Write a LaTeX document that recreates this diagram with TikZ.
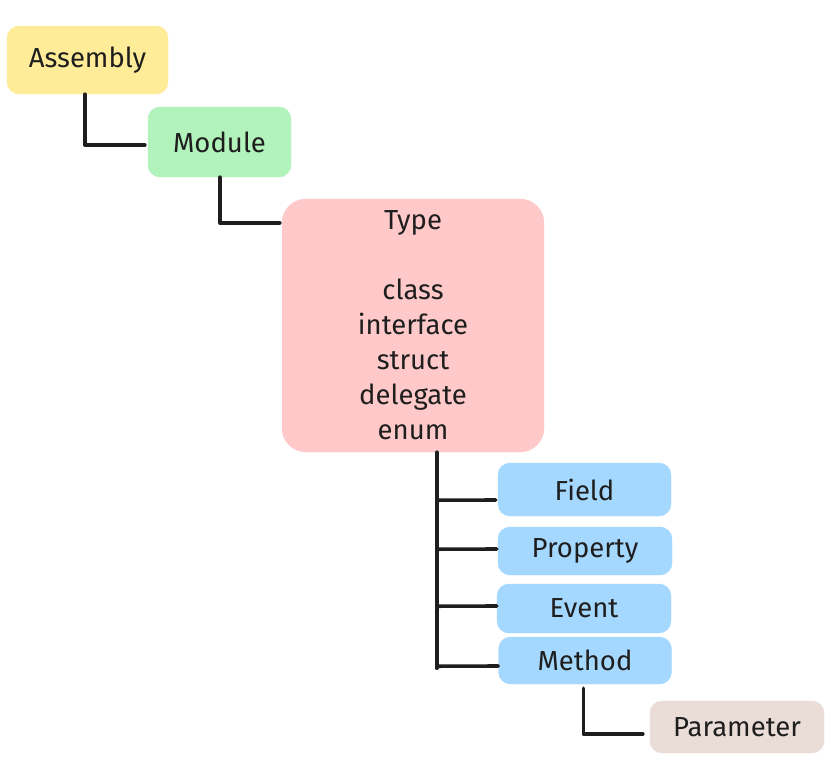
\documentclass[tikz,border=0pt]{standalone}
\usepackage{fontspec}
\setmainfont{Fira Sans}
\usetikzlibrary{calc}
\definecolor{ink}{HTML}{1E1E1E}
\definecolor{cyel}{HTML}{FFEC99}
\definecolor{cgrn}{HTML}{B2F2BB}
\definecolor{cpnk}{HTML}{FFC9C9}
\definecolor{cblu}{HTML}{A5D8FF}
\definecolor{cbrn}{HTML}{EADDD7}
\begin{document}
\begin{tikzpicture}[x=1pt,y=1pt,
  box/.style={rectangle, rounded corners=12pt, inner sep=0pt, text=ink,
    font=\fontsize{27.5}{35}\selectfont, align=center},
  link/.style={draw=ink, line width=3.6pt, line cap=round, line join=round}]
\useasboundingbox (0,0) rectangle (834,-777);
\fill[white] (0,0) rectangle (834,-777);
% boxes
\node[box, fill=cyel, draw=cyel, minimum width=161pt, minimum height=68pt] (asm) at (87.5,-60) {Assembly};
\node[box, fill=cgrn, draw=cgrn, minimum width=143pt, minimum height=70pt] (mod) at (219.5,-142) {Module};
\node[box, fill=cpnk, draw=cpnk, rounded corners=24pt, minimum width=262pt, minimum height=253pt] (typ) at (413,-325.5) {Type\\[0pt]\strut\\class\\interface\\struct\\delegate\\enum};
\node[box, fill=cblu, draw=cblu, minimum width=173pt, minimum height=53pt] (fld) at (584.5,-489.5) {Field};
\node[box, fill=cblu, draw=cblu, minimum width=174pt, minimum height=48pt] (prp) at (585,-551) {Property};
\node[box, fill=cblu, draw=cblu, minimum width=174pt, minimum height=49pt] (evt) at (584,-608.5) {Event};
\node[box, fill=cblu, draw=cblu, minimum width=173pt, minimum height=47pt] (mth) at (585,-660.5) {Method};
\node[box, fill=cbrn, draw=cbrn, minimum width=174pt, minimum height=52pt] (par) at (737,-727) {Parameter};
% connectors
\draw[link] ($(asm.south west)+(78,0)$) |- ($(mod.west)+(-3,-3)$);
\draw[link] ($(mod.south west)+(72,0)$) |- ($(typ.north west)+(-2,-24)$);
\coordinate (trunk) at ($(typ.south west)+(155,0)$);
\draw[link] (trunk) -- ($(trunk)+(0,-216)$);
\draw[link] ($(trunk)+(0,-48)$) -- ($(fld.west)+(-2,-10.5)$);
\draw[link] ($(trunk)+(0,-97)$) -- ($(prp.west)+(-1,2)$);
\draw[link] ($(trunk)+(0,-154)$) -- ($(evt.west)+(0,2.5)$);
\draw[link] ($(trunk)+(0,-214)$) -- ($(mth.west)+(0,-5.5)$);
\draw[link] ($(mth.south west)+(85,-4)$) |- ($(par.west)+(-7,-7)$);
\end{tikzpicture}
\end{document}
